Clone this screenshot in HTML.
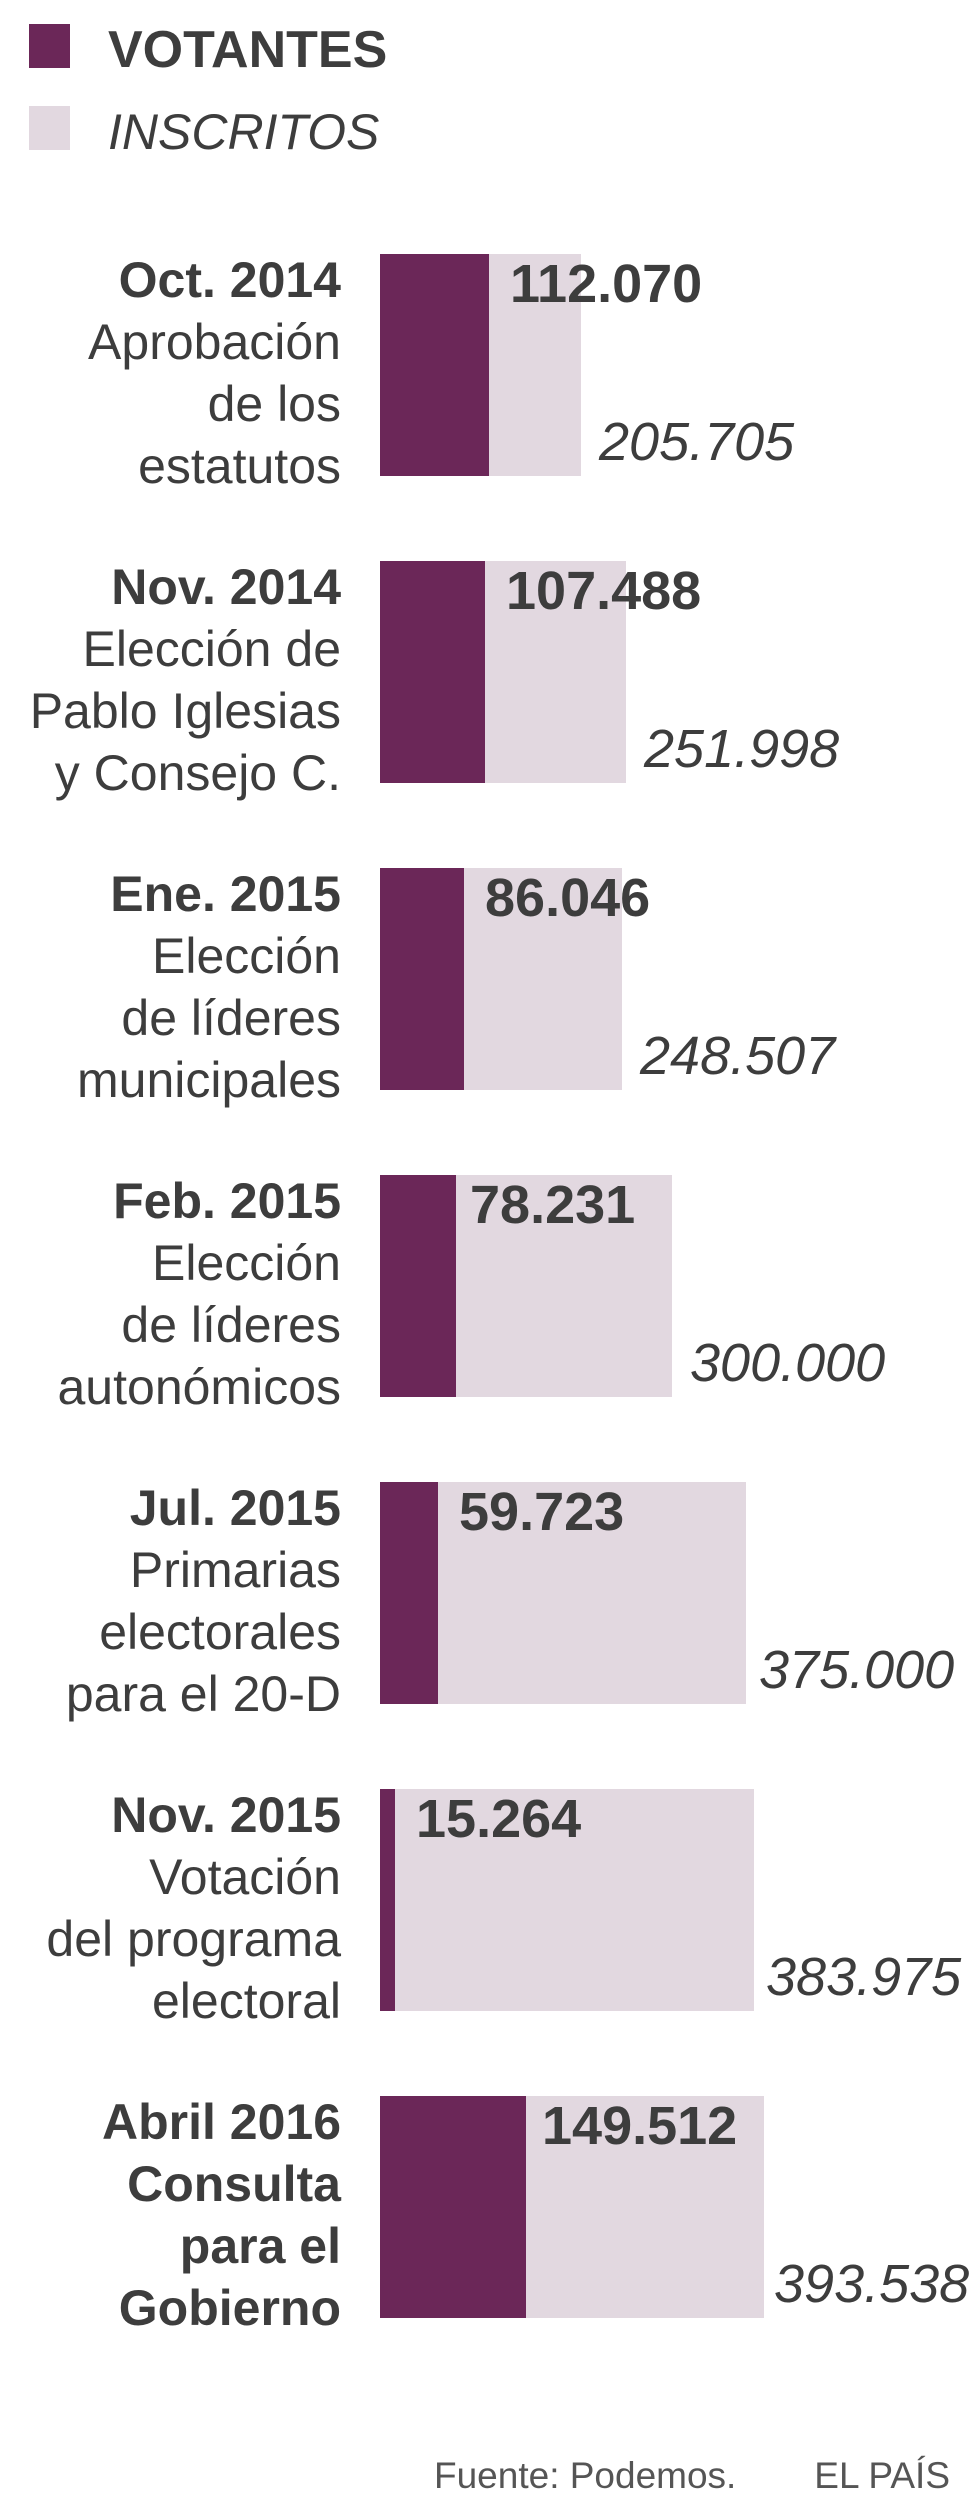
<!DOCTYPE html>
<html><head><meta charset="utf-8"><style>
html,body{margin:0;padding:0;background:#fff;}
svg{display:block;}
text{font-family:"Liberation Sans",sans-serif;fill:#3d3d3d;}
.b{font-weight:bold;}
.l{font-size:50px;}
.v{font-size:54px;font-weight:bold;}
.i{font-size:54px;font-style:italic;}
</style></head><body>
<svg width="980" height="2520" viewBox="0 0 980 2520" xmlns="http://www.w3.org/2000/svg">
<rect x="29" y="24" width="41" height="44" fill="#6b2758"/>
<text x="108" y="67" class="b" style="font-size:52px">VOTANTES</text>
<rect x="29" y="106" width="41" height="44" fill="#e2d8e0"/>
<text x="108" y="149" style="font-size:50px;font-style:italic">INSCRITOS</text>

<g transform="translate(0,254)">
<rect x="380" y="0" width="201" height="222" fill="#e2d8e0"/>
<rect x="380" y="0" width="109" height="222" fill="#6b2758"/>
<text x="510" y="48" class="v">112.070</text>
<text x="599" y="206" class="i">205.705</text>
<g text-anchor="end" class="l"><text x="341" y="43" class="b">Oct. 2014</text><text x="341" y="105">Aprobación</text><text x="341" y="167">de los</text><text x="341" y="229">estatutos</text></g>
</g>
<g transform="translate(0,561)">
<rect x="380" y="0" width="246" height="222" fill="#e2d8e0"/>
<rect x="380" y="0" width="105" height="222" fill="#6b2758"/>
<text x="506" y="48" class="v">107.488</text>
<text x="644" y="206" class="i">251.998</text>
<g text-anchor="end" class="l"><text x="341" y="43" class="b">Nov. 2014</text><text x="341" y="105">Elección de</text><text x="341" y="167">Pablo Iglesias</text><text x="341" y="229">y Consejo C.</text></g>
</g>
<g transform="translate(0,868)">
<rect x="380" y="0" width="242" height="222" fill="#e2d8e0"/>
<rect x="380" y="0" width="84" height="222" fill="#6b2758"/>
<text x="485" y="48" class="v">86.046</text>
<text x="640" y="206" class="i">248.507</text>
<g text-anchor="end" class="l"><text x="341" y="43" class="b">Ene. 2015</text><text x="341" y="105">Elección</text><text x="341" y="167">de líderes</text><text x="341" y="229">municipales</text></g>
</g>
<g transform="translate(0,1175)">
<rect x="380" y="0" width="292" height="222" fill="#e2d8e0"/>
<rect x="380" y="0" width="76" height="222" fill="#6b2758"/>
<text x="470" y="48" class="v">78.231</text>
<text x="690" y="206" class="i">300.000</text>
<g text-anchor="end" class="l"><text x="341" y="43" class="b">Feb. 2015</text><text x="341" y="105">Elección</text><text x="341" y="167">de líderes</text><text x="341" y="229">autonómicos</text></g>
</g>
<g transform="translate(0,1482)">
<rect x="380" y="0" width="366" height="222" fill="#e2d8e0"/>
<rect x="380" y="0" width="58" height="222" fill="#6b2758"/>
<text x="459" y="48" class="v">59.723</text>
<text x="759" y="206" class="i">375.000</text>
<g text-anchor="end" class="l"><text x="341" y="43" class="b">Jul. 2015</text><text x="341" y="105">Primarias</text><text x="341" y="167">electorales</text><text x="341" y="229">para el 20-D</text></g>
</g>
<g transform="translate(0,1789)">
<rect x="380" y="0" width="374" height="222" fill="#e2d8e0"/>
<rect x="380" y="0" width="15" height="222" fill="#6b2758"/>
<text x="416" y="48" class="v">15.264</text>
<text x="766" y="206" class="i">383.975</text>
<g text-anchor="end" class="l"><text x="341" y="43" class="b">Nov. 2015</text><text x="341" y="105">Votación</text><text x="341" y="167">del programa</text><text x="341" y="229">electoral</text></g>
</g>
<g transform="translate(0,2096)">
<rect x="380" y="0" width="384" height="222" fill="#e2d8e0"/>
<rect x="380" y="0" width="146" height="222" fill="#6b2758"/>
<text x="542" y="48" class="v">149.512</text>
<text x="774" y="206" class="i">393.538</text>
<g text-anchor="end" class="l b"><text x="341" y="43">Abril 2016</text><text x="341" y="105">Consulta</text><text x="341" y="167">para el</text><text x="341" y="229">Gobierno</text></g>
</g>

<text x="434" y="2488" style="font-size:37px;fill:#555">Fuente: Podemos.</text>
<text x="950" y="2488" text-anchor="end" style="font-size:37px;fill:#555">EL PAÍS</text>
</svg>
</body></html>
